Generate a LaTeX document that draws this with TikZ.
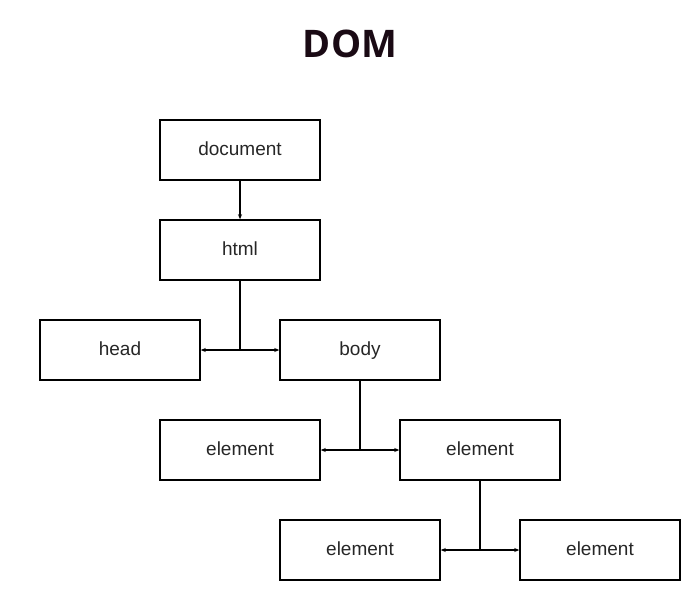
\documentclass[tikz,border=0pt]{standalone}
\usepackage{fontspec}
\setmainfont{Liberation Sans}
\newfontfamily\titlefont{Open Sans}
\usetikzlibrary{arrows.meta}
\definecolor{titlec}{HTML}{1A0A14}
\begin{document}
\begin{tikzpicture}[x=1pt,y=-1pt,
  box/.style={draw,line width=1.5pt,minimum width=160pt,minimum height=60pt,inner sep=0pt,text height=13pt,text depth=3pt,font=\fontsize{19}{22}\selectfont,text=black!85},
  conn/.style={line width=1.2pt,-{Stealth[length=5pt,width=4pt]}}]
\useasboundingbox (0,0) rectangle (700,600);
\node[font=\titlefont\bfseries\fontsize{38}{44}\selectfont,text=titlec] (t) at (350,44) {DOM};
\node[box] (doc) at (240,150) {document};
\node[box] (html) at (240,250) {html};
\node[box] (head) at (120,350) {head};
\node[box] (body) at (360,350) {body};
\node[box] (e1) at (240,450) {element};
\node[box] (e2) at (480,450) {element};
\node[box] (e3) at (360,550) {element};
\node[box] (e4) at (600,550) {element};
\coordinate (j1) at (240,350);
\coordinate (j2) at (360,450);
\coordinate (j3) at (480,550);
\draw[conn] (doc) -- (html);
\draw[line width=1.5pt] (html) -- (j1);
\draw[conn] (j1) -- (head);
\draw[conn] (j1) -- (body);
\draw[line width=1.5pt] (body) -- (j2);
\draw[conn] (j2) -- (e1);
\draw[conn] (j2) -- (e2);
\draw[line width=1.5pt] (e2) -- (j3);
\draw[conn] (j3) -- (e3);
\draw[conn] (j3) -- (e4);
\end{tikzpicture}
\end{document}
